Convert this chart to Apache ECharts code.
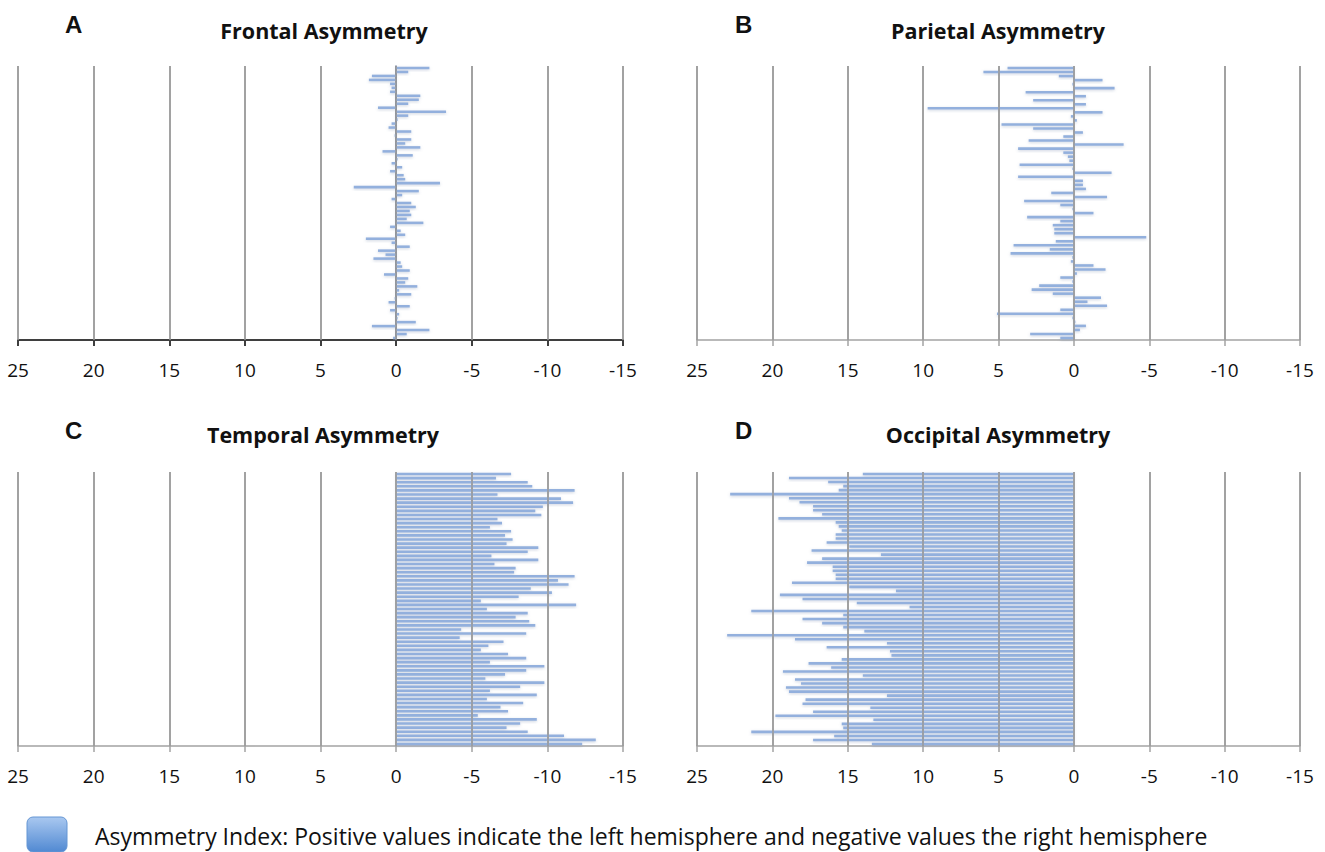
<!DOCTYPE html>
<html>
<head>
<meta charset="utf-8">
<script src="https://cdn.jsdelivr.net/npm/echarts@6/dist/echarts.min.js"></script>
<style>
html,body{margin:0;padding:0;background:#fff;}
#chart{width:1325px;height:852px;}
</style>
</head>
<body>
<div id="chart"></div>
<script>
// ---- Data (top to bottom, positive = left hemisphere) ----
const frontal = [-2.2, -0.8, 1.6, 1.8, 0.4, 0.3, 0.4, -1.6, -1.5, -0.8, 1.2, -3.3, -0.8, -0.1, 0.3, 0.5, -1.0, 0.1, -1.0, -0.6, -1.6, 0.9, -1.1, -0.1, 0.3, -0.4, 0.4, -0.5, -0.6, -2.9, 2.8, -1.5, -0.4, 0.3, -1.0,
  -1.3, -0.9, -1.0, -0.7, -1.8, 0.4, -0.3, -0.6, 2.0, 0.3, -0.9, 1.2, 0.7, 1.5, -0.3, -0.4, -0.9, 0.8, -0.8, -0.6, -1.4, -0.2, -1.0, 0.1, 0.5, -0.9, 0.4, -0.2, -0.1, -1.3, 1.6, -2.2, -0.7, 0.2];
const parietal = [4.4, 6.0, 1.0, -1.9, 0.1, -2.7, 3.2, -0.8, 2.7, -0.8, 9.7, -1.9, 0.2, -0.2, 4.8, 2.7, -0.6, 0.7, 3.0, -3.3, 3.7, 0.7, 0.4, 0.3, 3.6, 0.1, -2.5, 3.7, -0.6, -0.6, -0.8, 1.5, -2.2, 3.3,
  0.9, 0.1, -1.3, 3.1, 0.9, 1.4, 1.3, 1.3, -4.8, 1.2, 4.0, 1.6, 4.2, 0.1, 0.2, -1.3, -2.1, -0.2, 0.9, 0.1, 2.3, 2.8, 1.4, -1.8, -0.9, -2.2, 0.9, 5.1, 0.1, -0.1, -0.8, -0.4, 2.9, 0.9];
const temporal = [-7.6, -6.6, -8.7, -9.0, -11.8, -6.7, -10.9, -11.7, -9.7, -9.2, -9.6, -6.7, -7.0, -6.2, -7.6, -7.2, -7.7, -7.3, -9.4, -8.7, -6.3, -9.4, -6.5, -7.9, -7.8, -11.8, -10.7, -11.4, -8.9, -10.3, -8.1, -5.6, -11.9,
  -6.0, -8.7, -7.9, -8.8, -9.2, -4.3, -8.6, -4.2, -7.1, -6.1, -5.6, -7.4, -8.6, -6.2, -9.8, -8.6, -7.2, -5.9, -9.8, -8.2, -6.2, -9.3, -6.0, -8.4, -6.9, -7.4, -5.4, -9.3, -8.2, -7.3, -8.7, -11.1, -13.2, -12.3];
const occipital = [14.0, 18.9, 16.3, 15.3, 15.6, 22.8, 18.9, 18.2, 17.3, 17.3, 16.7, 19.6, 15.8, 15.6, 15.4, 15.8, 15.8, 16.4, 14.9, 17.4, 12.8, 16.7, 17.7, 16.0, 16.0, 15.8, 15.8, 18.7, 14.9, 11.8, 19.5, 18.0, 14.4, 10.9,
  21.4, 15.3, 18.0, 16.7, 15.3, 13.9, 23.0, 18.5, 12.4, 16.4, 12.2, 12.1, 15.4, 17.6, 16.1, 19.3, 14.0, 18.5, 18.1, 19.1, 18.9, 12.4, 17.8, 18.0, 13.5, 17.3, 19.8, 13.3, 15.4, 15.3, 21.4, 15.9, 17.3, 13.4];

const panelLetters = ['A', 'B', 'C', 'D'];
const panelTitles = ['Frontal Asymmetry', 'Parietal Asymmetry', 'Temporal Asymmetry', 'Occipital Asymmetry'];
const xTicks = [25, 20, 15, 10, 5, 0, -5, -10, -15];
const legendText = 'Asymmetry Index: Positive values indicate the left hemisphere and negative values the right hemisphere';
const seriesData = [frontal, parietal, temporal, occipital];

// ---- Layout ----
const grids = [
  {left: 18, top: 66, width: 605, height: 274},
  {left: 697, top: 66, width: 603, height: 274},
  {left: 18, top: 472, width: 605, height: 274},
  {left: 697, top: 472, width: 603, height: 274}
];
const letterPos = [[75, 26], [745, 26], [75, 432], [745, 432]];
const titlePos = [[324, 30], [998, 30], [323, 434], [998, 434]];

const FONT = '"Open Sans", "Liberation Sans", sans-serif';
const chart = echarts.init(document.getElementById('chart'), null, {renderer: 'svg'});

const xAxes = [], yAxes = [], series = [], graphics = [];
seriesData.forEach((d, i) => {
  const axisColor = i === 0 ? '#3f3f3f' : '#a3a3a3';
  const axisWidth = i === 0 ? 2 : 1.5;
  xAxes.push({
    type: 'value', gridIndex: i, min: -15, max: 25, interval: 5, inverse: true,
    axisLine: {show: true, lineStyle: {color: axisColor, width: axisWidth}},
    axisTick: {show: true, length: 6, lineStyle: {color: axisColor, width: axisWidth}},
    axisLabel: {color: '#111', fontSize: 19, fontFamily: FONT, margin: 20},
    splitLine: {show: true, lineStyle: {color: '#a3a3a3', width: 1.5}}
  });
  yAxes.push({
    type: 'category', gridIndex: i, inverse: true,
    data: d.map((_, k) => 'S' + (k + 1)),
    axisLine: {show: i === 0, onZero: true, lineStyle: {color: '#6e7e98', width: 1.5}},
    axisTick: {show: false}, axisLabel: {show: false}, splitLine: {show: false}
  });
  series.push({
    name: legendText, type: 'bar', xAxisIndex: i, yAxisIndex: i, data: d,
    barWidth: '64%',
    itemStyle: {color: '#93b0dd', shadowBlur: 3, shadowColor: 'rgba(110,130,165,0.35)', shadowOffsetY: 1},
    markLine: {
      silent: true, symbol: 'none', animation: false,
      label: {show: false},
      lineStyle: {color: '#9a9a9a', width: 1.5, type: 'solid'},
      data: xTicks.map(v => ({xAxis: v}))
    }
  });
  graphics.push({
    type: 'text', left: letterPos[i][0] - 10, top: letterPos[i][1] - 14,
    style: {text: panelLetters[i], fontSize: 24, fontWeight: 'bold', fontFamily: '"Liberation Sans", Arial, sans-serif', fill: '#111'}
  });
  graphics.push({
    type: 'text', x: titlePos[i][0], y: titlePos[i][1],
    style: {text: panelTitles[i], fontSize: 21.5, fontWeight: 'bold', fontFamily: FONT, fill: '#111', textAlign: 'center', textVerticalAlign: 'middle'}
  });
});

graphics.push({
  type: 'rect', shape: {x: 27, y: 817, width: 40, height: 35, r: 6},
  style: {
    fill: new echarts.graphic.LinearGradient(0, 0, 0, 1, [
      {offset: 0, color: '#a9c8f0'}, {offset: 1, color: '#5189d2'}
    ]),
    stroke: '#6596d4', lineWidth: 1
  }
});
graphics.push({
  type: 'text', x: 95, y: 836,
  style: {text: legendText, fontSize: 23, fontFamily: FONT, fill: '#111', textVerticalAlign: 'middle'}
});

chart.setOption({
  animation: false,
  backgroundColor: '#ffffff',
  grid: grids,
  xAxis: xAxes,
  yAxis: yAxes,
  series: series,
  graphic: graphics
});
</script>
</body>
</html>
